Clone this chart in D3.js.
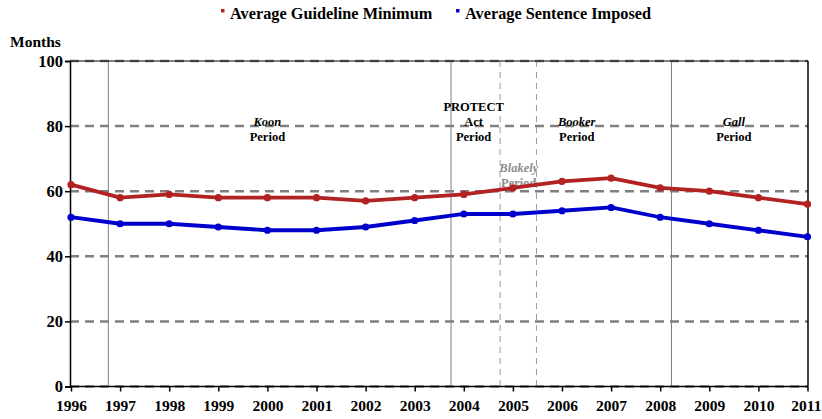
<!DOCTYPE html>
<html>
<head>
<meta charset="utf-8">
<script src="https://cdn.jsdelivr.net/npm/d3@7"></script>
<style>
body { margin: 0; background: #fff; }
svg text { font-family: "Liberation Serif", "DejaVu Serif", serif !important; font-weight: bold; }
.grid line { stroke: #808080; stroke-width: 2.5; stroke-dasharray: 9,6; }
.axis path, .axis line { stroke: #000; stroke-width: 1.5; }
.axis text { fill: #000; }
</style>
</head>
<body>
<svg width="822" height="419"></svg>
<script>
var svg = d3.select('svg');
var years = [1996, 1997, 1998, 1999, 2000, 2001, 2002, 2003, 2004, 2005, 2006, 2007, 2008, 2009, 2010, 2011];
var guidelineMin = [62, 58, 59, 58, 58, 58, 57, 58, 59, 61, 63, 64, 61, 60, 58, 56];
var sentenceImposed = [52, 50, 50, 49, 48, 48, 49, 51, 53, 53, 54, 55, 52, 50, 48, 46];
var yTicks = [0, 20, 40, 60, 80, 100];
var periodLines = [1996.76, 2003.74, 2008.23]; // solid dividers
var blakelyLines = [2004.74, 2005.48]; // dashed dividers
var periods = [
    {x: 2000.0, lines: [{t: 'Koon', i: true}, {t: 'Period'}]},
    {x: 2004.2, lines: [{t: 'PROTECT'}, {t: 'Act'}, {t: 'Period'}]},
    {x: 2006.3, lines: [{t: 'Booker', i: true}, {t: 'Period'}]},
    {x: 2009.5, lines: [{t: 'Gall', i: true}, {t: 'Period'}]}
];
var series = [
    {name: 'Average Guideline Minimum', values: guidelineMin, color: '#b22222'},
    {name: 'Average Sentence Imposed', values: sentenceImposed, color: '#0000cc'}
];

var x = d3.scaleLinear().domain([1996, 2011]).range([71, 807.5]);
var y = d3.scaleLinear().domain([0, 100]).range([386.5, 61]);
var left = 70, right = 808;

// horizontal dashed grid
svg.append('g').attr('class', 'grid')
  .selectAll('line').data(yTicks).enter().append('line')
    .attr('x1', left).attr('x2', right)
    .attr('y1', function(d) { return y(d); })
    .attr('y2', function(d) { return y(d); });

// period dividers
svg.selectAll('.pline').data(periodLines).enter().append('line')
    .attr('x1', function(d) { return x(d); }).attr('x2', function(d) { return x(d); })
    .attr('y1', y(100)).attr('y2', y(0))
    .attr('stroke', '#808080').attr('stroke-width', 1);
svg.selectAll('.bline').data(blakelyLines).enter().append('line')
    .attr('x1', function(d) { return x(d); }).attr('x2', function(d) { return x(d); })
    .attr('y1', y(100)).attr('y2', y(0))
    .attr('stroke', '#999').attr('stroke-width', 1).attr('stroke-dasharray', '6,5');

// frame: top + right
svg.append('line').attr('x1', left).attr('x2', right).attr('y1', y(100)).attr('y2', y(100))
    .attr('stroke', '#000').attr('stroke-width', 1.2);
svg.append('line').attr('x1', right).attr('x2', right).attr('y1', y(100)).attr('y2', y(0))
    .attr('stroke', '#000').attr('stroke-width', 1.5);

// period labels
periods.forEach(function(p) {
    var t = svg.append('text').attr('text-anchor', 'middle')
        .attr('font-size', 12.5).attr('fill', '#000');
    var y0 = p.lines.length == 3 ? 111 : 126;
    p.lines.forEach(function(l, i) {
        t.append('tspan').attr('x', x(p.x)).attr('y', y0 + i * 15)
            .attr('font-style', l.i ? 'italic' : 'normal').text(l.t);
    });
});
var bl = svg.append('text').attr('text-anchor', 'middle')
    .attr('font-size', 12.5).attr('fill', '#8c8c8c');
bl.append('tspan').attr('x', x(2005.12)).attr('y', 172).attr('font-style', 'italic').text('Blakely');
bl.append('tspan').attr('x', x(2005.12)).attr('y', 187).text('Period');

// axes
svg.append('g').attr('class', 'axis')
    .attr('transform', 'translate(' + left + ',0)')
    .call(d3.axisLeft(y).tickValues(yTicks).tickSize(5).tickPadding(2))
    .call(function(g) { g.selectAll('text').attr('font-size', 16.5); });
svg.append('g').attr('class', 'axis')
    .attr('transform', 'translate(0,' + y(0) + ')')
    .call(d3.axisBottom(x).tickValues(years).tickFormat(d3.format('d')).tickSize(5).tickSizeOuter(0).tickPadding(8))
    .call(function(g) {
        g.select('.domain').attr('d', 'M' + left + ',0H' + right);
        g.selectAll('text').attr('font-size', 15.5);
        // last label pushed inside the window, as in the original
        g.selectAll('.tick').filter(function(d) { return d == 2011; }).select('text')
            .attr('text-anchor', 'end').attr('x', 821 - x(2011));
    });

svg.append('text').attr('x', 10).attr('y', 47).attr('font-size', 15.5).text('Months');

// series
var line = d3.line()
    .x(function(d, i) { return x(years[i]); })
    .y(function(d) { return y(d); });
series.forEach(function(s) {
    svg.append('path').datum(s.values)
        .attr('fill', 'none').attr('stroke', s.color)
        .attr('stroke-width', 3.8).attr('stroke-linejoin', 'round')
        .attr('d', line);
    svg.append('g').selectAll('circle').data(s.values).enter().append('circle')
        .attr('cx', function(d, i) { return x(years[i]); })
        .attr('cy', function(d) { return y(d); })
        .attr('r', 3.6).attr('fill', s.color);
});

// legend
var legX = [221, 456];
series.forEach(function(s, i) {
    svg.append('rect').attr('x', legX[i]).attr('y', 9).attr('width', 3.5).attr('height', 3.5).attr('fill', s.color);
    svg.append('text').attr('x', legX[i] + 9).attr('y', 19).attr('font-size', 16.3).text(s.name);
});
</script>
</body>
</html>
